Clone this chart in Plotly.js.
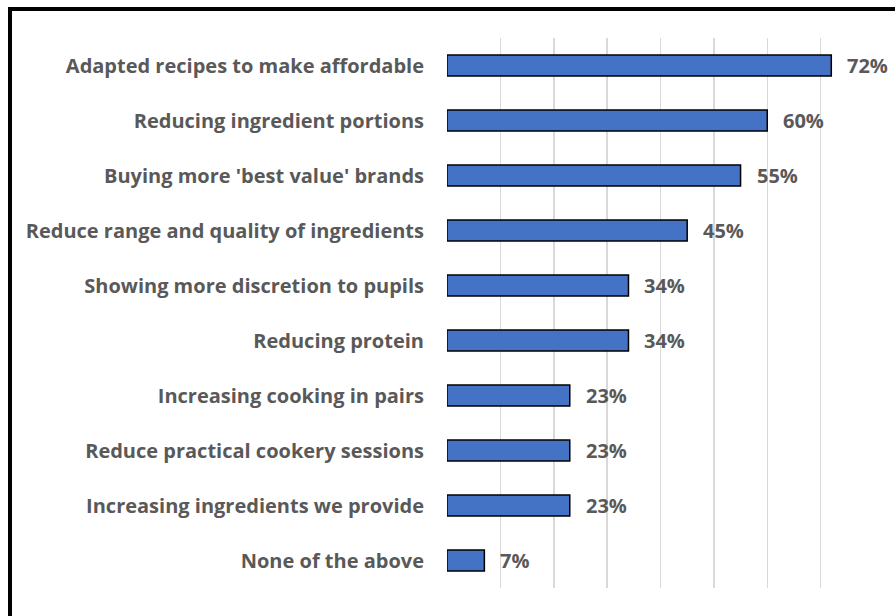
<!DOCTYPE html>
<html><head><meta charset="utf-8">
<script src="https://cdn.plot.ly/plotly-3.0.1.min.js"></script>
<style>
html,body{margin:0;padding:0;background:#fff;overflow:hidden;}
#frame{position:absolute;left:8px;top:7px;width:1000px;height:1000px;border-left:4px solid #000;border-top:4px solid #000;box-sizing:border-box;}
#chart{position:absolute;left:0;top:0;width:895px;height:616px;}
</style></head>
<body>
<div id="frame"></div>
<div id="chart"></div>
<script>
const categories = [
  "Adapted recipes to make affordable",
  "Reducing ingredient portions",
  "Buying more 'best value' brands",
  "Reduce range and quality of ingredients",
  "Showing more discretion to pupils",
  "Reducing protein",
  "Increasing cooking in pairs",
  "Reduce practical cookery sessions",
  "Increasing ingredients we provide",
  "None of the above"
];
const values = [72, 60, 55, 45, 34, 34, 23, 23, 23, 7];
const valueLabels = ["72%", "60%", "55%", "45%", "34%", "34%", "23%", "23%", "23%", "7%"];

const FONT = "'Open Sans', sans-serif";
const GREY = "#595959";

const trace = {
  type: "bar",
  orientation: "h",
  x: values,
  y: categories,
  marker: {color: "#4472C4", line: {color: "#000000", width: 1.5}},
  hoverinfo: "none"
};

const annotations = categories.map((c, i) => ({
  x: values[i], y: c, xref: "x", yref: "y",
  text: "<b>" + valueLabels[i] + "</b>",
  showarrow: false, xanchor: "left", yanchor: "middle", xshift: 14,
  font: {family: FONT, size: 20, color: GREY}
}));

const layout = {
  width: 895, height: 616,
  margin: {l: 447, r: 21, t: 38, b: 28, pad: 0},
  paper_bgcolor: "rgba(0,0,0,0)",
  plot_bgcolor: "rgba(0,0,0,0)",
  showlegend: false,
  bargap: 0.62,
  xaxis: {
    range: [0, 80], dtick: 10, showgrid: true, gridcolor: "#D9D9D9", gridwidth: 1.5,
    zeroline: false, showticklabels: false, showline: false, ticks: "", fixedrange: true
  },
  yaxis: {
    autorange: "reversed", showgrid: false, zeroline: false, showline: false, ticks: "",
    ticklabelstandoff: 22,
    tickfont: {family: FONT, size: 20, color: GREY, weight: "bold"}
  },
  annotations: annotations
};

Plotly.newPlot("chart", [trace], layout, {displayModeBar: false, staticPlot: true});
</script>
</body></html>
